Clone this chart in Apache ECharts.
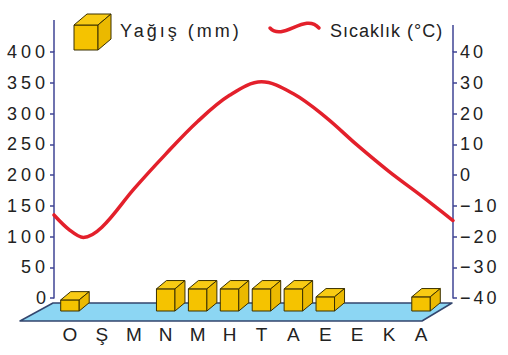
<!DOCTYPE html>
<html><head><meta charset="utf-8">
<script src="https://cdn.jsdelivr.net/npm/echarts@6/dist/echarts.min.js"></script>
<style>html,body{margin:0;padding:0;background:#fff}#c{width:508px;height:355px}</style>
</head><body><div id="c"></div>
<script>
// ---- data ----
const months = ['O', 'Ş', 'M', 'N', 'M', 'H', 'T', 'A', 'E', 'E', 'K', 'A'];
const precip = [18, 0, 0, 36, 36, 36, 36, 36, 23, 0, 0, 23];        // mm
const tempX = [-0.5, 0, 0.42, 1, 2, 3, 4, 5, 6, 7, 8, 9, 10, 11, 12];   // month position
const tempY = [-13, -18, -20.3, -17, -4.6, 6.8, 17.4, 25.9, 30.3, 26.4, 18.9, 9.7, 1.1, -6.7, -14.8]; // °C
const precipTicks = [0, 50, 100, 150, 200, 250, 300, 350, 400];
const tempTicks = [-40, -30, -20, -10, 0, 10, 20, 30, 40];
const legendNames = ['Yağış (mm)', 'Sıcaklık (°C)'];

const FONT = '"Liberation Sans", Arial, sans-serif';
const AXIS = '#3f4494';
const TXT = '#222';
const YEL = '#f5c300', YEL_TOP = '#f8cb14', YEL_SIDE = '#ebb900', EDGE = '#3a3000';

const chart = echarts.init(document.getElementById('c'), null, {renderer: 'svg'});

function cube(x0, yb, w, h, dx, dy, z) {
  const yt = yb - h;
  const st = (c) => ({fill: c, stroke: EDGE, lineWidth: 1, lineJoin: 'round'});
  return [
    {type: 'polygon', z2: z, shape: {points: [[x0, yt], [x0 + w, yt], [x0 + w, yb], [x0, yb]]}, style: st(YEL)},
    {type: 'polygon', z2: z, shape: {points: [[x0, yt], [x0 + dx, yt - dy], [x0 + w + dx, yt - dy], [x0 + w, yt]]}, style: st(YEL_TOP)},
    {type: 'polygon', z2: z, shape: {points: [[x0 + w, yt], [x0 + w + dx, yt - dy], [x0 + w + dx, yb - dy], [x0 + w, yb]]}, style: st(YEL_SIDE)}
  ];
}

const option = {
  animation: false,
  backgroundColor: '#fff',
  textStyle: {fontFamily: FONT},
  grid: [
    {left: 54, top: 52, width: 399, height: 246},
    {left: 54, top: 52, width: 383, height: 246}
  ],
  xAxis: [
    {type: 'value', gridIndex: 0, min: tempX[0], max: tempX[tempX.length - 1], show: false},
    {type: 'category', gridIndex: 1, data: months, boundaryGap: true,
      axisLine: {show: false}, axisTick: {show: false},
      axisLabel: {margin: 27, fontSize: 19, color: TXT, fontFamily: FONT, interval: 0}}
  ],
  yAxis: [
    {type: 'value', gridIndex: 0, position: 'left',
      min: precipTicks[0], max: precipTicks[precipTicks.length - 1], interval: precipTicks[1] - precipTicks[0],
      axisLine: {show: true, onZero: false, lineStyle: {color: AXIS, width: 1.5}},
      axisTick: {show: true, length: 4, lineStyle: {color: AXIS, width: 1.5}},
      splitLine: {show: false},
      axisLabel: {fontSize: 18, color: TXT, margin: 5, fontFamily: FONT}},
    {type: 'value', gridIndex: 0, position: 'right',
      min: tempTicks[0], max: tempTicks[tempTicks.length - 1], interval: tempTicks[1] - tempTicks[0],
      axisLine: {show: true, onZero: false, lineStyle: {color: AXIS, width: 1.5}},
      axisTick: {show: true, length: 4, lineStyle: {color: AXIS, width: 1.5}},
      splitLine: {show: false},
      axisLabel: {fontSize: 18, color: TXT, margin: 7, fontFamily: FONT,
        formatter: (v) => v < 0 ? '\u2212' + Math.abs(v) : String(v)}},
    {type: 'value', gridIndex: 1, min: precipTicks[0], max: precipTicks[precipTicks.length - 1], show: false}
  ],
  graphic: [
    // axis extensions above top tick
    {type: 'line', shape: {x1: 54, y1: 20, x2: 54, y2: 52}, style: {stroke: AXIS, lineWidth: 1.5}},
    {type: 'line', shape: {x1: 453, y1: 25, x2: 453, y2: 52}, style: {stroke: AXIS, lineWidth: 1.5}},
    // legend: precipitation cube
    {type: 'group', children: cube(74, 50, 24, 25, 13, 11, 1)},
    {type: 'text', x: 120, y: 31, style: {text: legendNames[0], fill: TXT, font: '18px ' + FONT, verticalAlign: 'middle'}},
    // legend: temperature wave
    {type: 'bezierCurve', shape: {x1: 270, y1: 28, cpx1: 283, cpy1: 42, cpx2: 305, cpy2: 12, x2: 319, y2: 28},
      style: {fill: 'none', stroke: '#e3202b', lineWidth: 3.5, lineCap: 'round'}},
    {type: 'text', x: 330, y: 31, style: {text: legendNames[1], fill: TXT, font: '18px ' + FONT, verticalAlign: 'middle'}}
  ],
  series: [
    { // floor
      type: 'custom', xAxisIndex: 0, yAxisIndex: 0, z: 1, silent: true,
      data: [[0, 0]],
      renderItem: (params, api) => {
        const cs = params.coordSys;
        const y0 = api.coord([0, 0])[1];
        return {type: 'polygon', shape: {points: [
          [cs.x - 1, y0 + 5], [cs.x + cs.width - 1, y0 + 5],
          [cs.x + cs.width - 31, y0 + 23], [cs.x - 34, y0 + 23]]},
          style: {fill: '#8cd6f3', stroke: '#33466e', lineWidth: 1.5, lineJoin: 'round'}};
      }
    },
    { // precipitation cubes
      name: legendNames[0], type: 'custom', xAxisIndex: 1, yAxisIndex: 2, z: 3, silent: true,
      data: precip.map((v, i) => [i, v]),
      renderItem: (params, api) => {
        const v = api.value(1);
        if (!(v > 0)) return null;
        const base = api.coord([api.value(0), 0]);
        const h = api.size([0, v])[1];
        const w = 18.5;
        return {type: 'group', children: cube(base[0] - w / 2, base[1] + 13, w, h, 10, 8.3, 3)};
      }
    },
    { // temperature
      name: legendNames[1], type: 'line', xAxisIndex: 0, yAxisIndex: 1, z: 4,
      data: tempX.map((x, i) => [x, tempY[i]]),
      smooth: 0.35, showSymbol: false, symbol: 'none',
      lineStyle: {color: '#e3202b', width: 3.5, cap: 'round'}
    }
  ]
};
chart.setOption(option);
chart.getZr().flush();

// letter spacing to match the tracked-out lettering of the original
const spacing = {};
spacing[legendNames[0]] = '3px';
spacing[legendNames[1]] = '1px';
precipTicks.forEach(v => { spacing[String(v)] = '4px'; });
tempTicks.forEach(v => { spacing[v < 0 ? '\u2212' + Math.abs(v) : String(v)] = '3px'; });
document.querySelectorAll('#c svg text').forEach(t => {
  const s = spacing[t.textContent];
  if (s) t.style.letterSpacing = s;
});
</script></body></html>
